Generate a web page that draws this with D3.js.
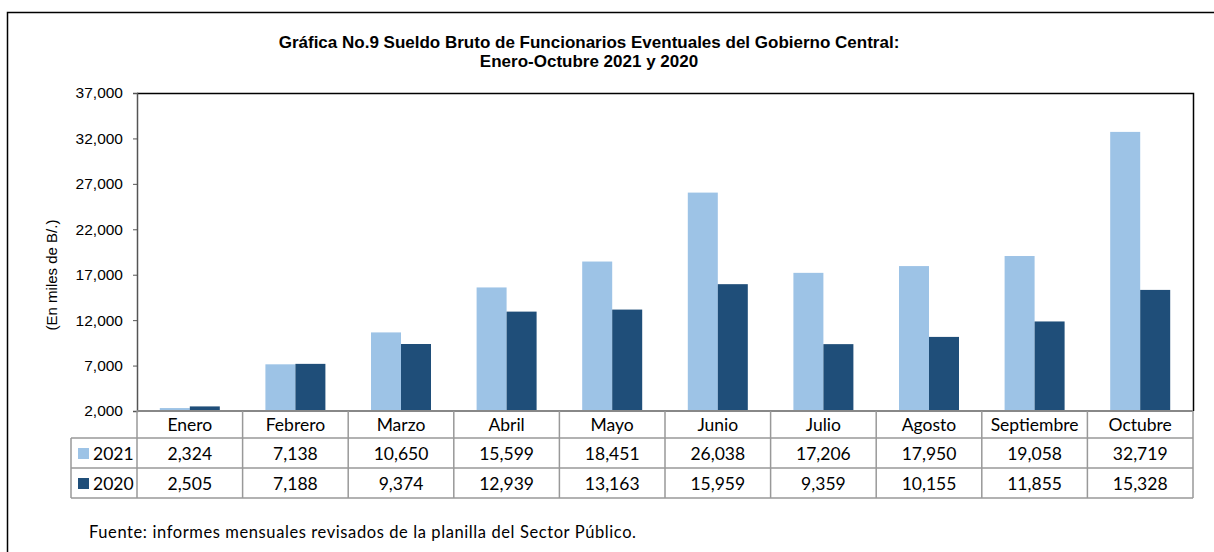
<!DOCTYPE html>
<html><head><meta charset="utf-8">
<script src="https://cdn.jsdelivr.net/npm/d3@7"></script>
<style>body{margin:0;background:#fff}svg{display:block}</style>
</head><body>
<svg id="c" width="1214" height="552"></svg>
<script>
const categories = ["Enero","Febrero","Marzo","Abril","Mayo","Junio","Julio","Agosto","Septiembre","Octubre"];
const series2021 = [2324,7138,10650,15599,18451,26038,17206,17950,19058,32719];
const series2020 = [2505,7188,9374,12939,13163,15959,9359,10155,11855,15328];
const seriesNames = ["2021","2020"];
const yTicks = [2000,7000,12000,17000,22000,27000,32000,37000];
const colors = ["#9DC3E6","#1F4E79"];

const svg = d3.select("#c");
const L = 137, R = 1193, T = 93, B = 411;
const tableFont = "Lato, 'Open Sans', sans-serif";
const arial = "'Liberation Sans', Arial, sans-serif";

// outer border
svg.append("rect").attr("x",7.5).attr("y",12.5).attr("width",1250).attr("height",600)
  .attr("fill","none").attr("stroke","#000").attr("stroke-width",1.5);

// title
const title = svg.append("text").attr("text-anchor","middle")
  .attr("font-family",arial).attr("font-weight","bold").attr("font-size",17).attr("fill","#000");
title.append("tspan").attr("x",589).attr("y",48).text("Gráfica No.9 Sueldo Bruto de Funcionarios Eventuales del Gobierno Central:");
title.append("tspan").attr("x",589).attr("y",67).text("Enero-Octubre 2021 y 2020");

const x = d3.scaleBand().domain(categories).range([L,R]);
const y = d3.scaleLinear().domain([2000,37000]).range([B,T]);
const barW = 30;

// bars
const data = [series2021, series2020];
data.forEach((s,si)=>{
  svg.append("g").selectAll("rect").data(s).join("rect")
    .attr("x",(d,i)=>x(categories[i]) + x.bandwidth()/2 - barW + si*barW)
    .attr("y",d=>y(d)).attr("width",barW).attr("height",d=>B-y(d))
    .attr("fill",colors[si]);
});

// plot border top/right
svg.append("path").attr("d",`M${L},${T+0.5}H${R+0.5}V${B}`).attr("fill","none").attr("stroke","#000").attr("stroke-width",1.5);

// y axis
const yAxis = svg.append("g").attr("transform",`translate(${L},0)`)
  .call(d3.axisLeft(y).tickValues(yTicks).tickSize(4).tickFormat(d3.format(",")));
yAxis.attr("font-family",arial).attr("font-size",15.5);
yAxis.select(".domain").attr("stroke","#555").attr("stroke-width",1.5);
yAxis.selectAll(".tick line").attr("stroke","#555");
yAxis.selectAll("text").style("font-family",arial).style("font-size","15.5px").attr("fill","#000").attr("x",-14);

// y title
svg.append("text").attr("transform","translate(57,275) rotate(-90)").attr("text-anchor","middle")
  .attr("font-family",arial).attr("font-size",15).attr("fill","#000")
  .text("(En miles de B/.)");

// data table
const rowBot = 498;
const tbl = svg.append("g");
const gridColor = "#999";
tbl.append("line").attr("x1",L).attr("x2",R).attr("y1",B).attr("y2",B).attr("stroke","#888").attr("stroke-width",2);
[438,468,498].forEach(yy=>{
  tbl.append("line").attr("x1",71).attr("x2",R).attr("y1",yy).attr("y2",yy).attr("stroke",gridColor).attr("stroke-width",1.5);
});
tbl.append("line").attr("x1",71).attr("x2",71).attr("y1",438).attr("y2",498).attr("stroke",gridColor).attr("stroke-width",1.5);
categories.forEach(c=>{
  tbl.append("line").attr("x1",x(c)).attr("x2",x(c)).attr("y1",B).attr("y2",rowBot).attr("stroke",gridColor).attr("stroke-width",1.5);
});
tbl.append("line").attr("x1",R).attr("x2",R).attr("y1",B).attr("y2",rowBot).attr("stroke",gridColor).attr("stroke-width",1.5);

// category labels
tbl.selectAll("text.cat").data(categories).join("text").attr("class","cat")
  .attr("x",d=>x(d)+x.bandwidth()/2).attr("y",431).attr("text-anchor","middle")
  .attr("font-family",tableFont).attr("font-size",17.5).attr("fill","#000").text(d=>d);

const fmt = d3.format(",");
data.forEach((s,si)=>{
  const yy = si===0 ? 460 : 490;
  tbl.append("rect").attr("x",78).attr("y",yy-12).attr("width",11).attr("height",11).attr("fill",colors[si]);
  tbl.append("text").attr("x",93).attr("y",yy).attr("font-family",tableFont).attr("font-size",17.5).attr("fill","#000").text(seriesNames[si]);
  tbl.selectAll(null).data(s).join("text")
    .attr("x",(d,i)=>x(categories[i])+x.bandwidth()/2).attr("y",yy).attr("text-anchor","middle")
    .attr("font-family",tableFont).attr("font-size",17.5).attr("fill","#000").text(d=>fmt(d));
});

// footer
svg.append("text").attr("x",89).attr("y",538).attr("font-family",tableFont).attr("font-size",16.5)
  .attr("textLength",547).attr("lengthAdjust","spacing").attr("fill","#000")
  .text("Fuente: informes mensuales revisados de la planilla del Sector Público.");
</script>
</body></html>
